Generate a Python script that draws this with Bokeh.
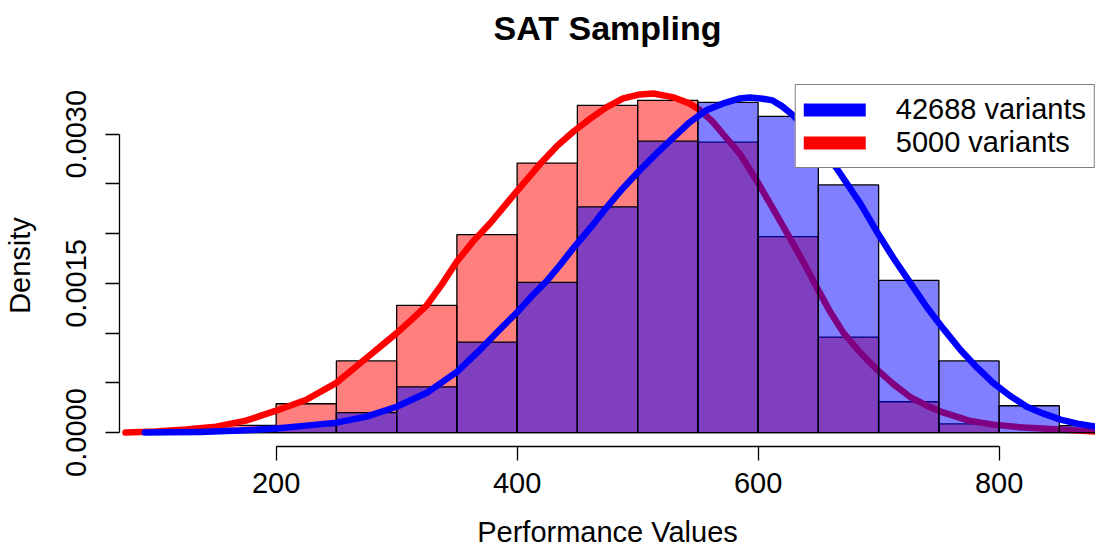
from bokeh.plotting import figure
from bokeh.models import Range1d, FixedTicker, Legend, LegendItem, Title
from bokeh.embed import file_html
from bokeh.resources import INLINE

# Histogram bin edges (Performance Values) shared by both samples
bin_edges = [150, 200, 250, 300, 350, 400, 450, 500, 550, 600, 650, 700, 750, 800, 850, 900]

# Histogram densities, 5000-variant sample
dens_5000 = [0.000073, 0.00029, 0.00072, 0.00128, 0.00199, 0.00271, 0.00329, 0.00334,
             0.00292, 0.00197, 0.00096, 0.00031, 0.000087, 0.0, 0.0]

# Histogram densities, full 42688-variant set
dens_42688 = [0.00001, 0.00007, 0.00020, 0.00046, 0.00091, 0.00151, 0.00227, 0.00293,
              0.00332, 0.00318, 0.00249, 0.00153, 0.00072, 0.00027, 0.00007]

# Kernel density estimate, 5000-variant sample
kde_5000_x = [75, 100, 125, 150, 175, 200, 225, 250, 275, 300, 312, 325, 337, 350, 364, 378,
              391, 400, 410, 419, 433, 447, 461, 474, 488, 502, 513, 530, 543, 552, 562, 571,
              585, 599, 612, 629, 640, 650, 660, 671, 685, 699, 712, 726, 740, 754, 775, 795,
              820, 851, 880]
kde_5000_y = [0.0, 0.00001, 0.00003, 0.00006, 0.00012, 0.00022, 0.00033, 0.00050, 0.00075,
              0.00100, 0.00113, 0.00128, 0.00148, 0.00172, 0.00193, 0.00211, 0.00230, 0.00243,
              0.00257, 0.00270, 0.00288, 0.00303, 0.00316, 0.00327, 0.00336, 0.00340, 0.00341,
              0.00337, 0.00331, 0.00324, 0.00313, 0.00300, 0.00280, 0.00253, 0.00226, 0.00190,
              0.00166, 0.00143, 0.00121, 0.00100, 0.00080, 0.00063, 0.00049, 0.00036, 0.00027,
              0.00020, 0.00012, 0.00008, 0.00005, 0.00003, 0.00001]

# Kernel density estimate, 42688-variant set
kde_42688_x = [91, 110, 137, 170, 200, 225, 250, 275, 300, 325, 350, 369, 385, 400, 412, 425,
               436, 447, 461, 474, 488, 502, 516, 530, 543, 557, 571, 585, 593, 602, 612, 620,
               629, 640, 652, 665, 685, 698, 712, 726, 740, 754, 768, 782, 795, 809, 823, 837,
               851, 865, 880]
kde_42688_y = [0.0, 0.000003, 0.000007, 0.00002, 0.00004, 0.00007, 0.00010, 0.00016, 0.00026,
               0.00040, 0.00061, 0.00083, 0.00103, 0.00121, 0.00137, 0.00153, 0.00169, 0.00186,
               0.00206, 0.00226, 0.00246, 0.00264, 0.00281, 0.00297, 0.00312, 0.00324, 0.00331,
               0.00336, 0.00337, 0.00336, 0.00334, 0.00328, 0.00319, 0.00305, 0.00287, 0.00266,
               0.00230, 0.00203, 0.00176, 0.00151, 0.00126, 0.00104, 0.00083, 0.00065, 0.00050,
               0.00037, 0.00026, 0.00019, 0.00013, 0.00009, 0.00006]

x_ticks = [200, 400, 600, 800]
y_ticks = [0.0, 0.0005, 0.0010, 0.0015, 0.0020, 0.0025, 0.0030]
y_tick_labels = {0.0: "0.0000", 0.0015: "0.0015", 0.0030: "0.0030"}

FONT = "Liberation Sans"
NAN = float("nan")

p = figure(width=1095, height=550, output_backend="svg", toolbar_location=None,
           x_range=Range1d(70, 880), y_range=Range1d(-0.00014, 0.0035),
           min_border_left=119, min_border_right=0, min_border_top=84, min_border_bottom=103)
p.outline_line_color = None
p.grid.visible = False
p.background_fill_color = "white"
p.border_fill_color = "white"

# title row: an empty gap next to the frame, then the title above it
title_gap = Title(text=" ", text_font_size="2px", standoff=34)
main_title = Title(text="SAT Sampling", align="center", text_font=FONT,
                   text_font_size="34px", text_font_style="bold", text_color="black",
                   standoff=0)
p.add_layout(title_gap, "above")
p.add_layout(main_title, "above")

lefts = bin_edges[:-1]
rights = bin_edges[1:]

# red histogram and its density curve first, blue drawn over them
p.quad(left=lefts, right=rights, bottom=0, top=dens_5000,
       fill_color="red", fill_alpha=0.5, line_color="black", line_width=1.3)
p.line(kde_5000_x, kde_5000_y, line_color="red", line_width=6.5, line_join="round",
       line_cap="round")
p.quad(left=lefts, right=rights, bottom=0, top=dens_42688,
       fill_color="blue", fill_alpha=0.5, line_color="black", line_width=1.3)
p.line(kde_42688_x, kde_42688_y, line_color="blue", line_width=6.5, line_join="round",
       line_cap="round")

# legend swatches (a single empty point each, shown only in the legend)
sw_blue = p.line([NAN], [NAN], line_color="blue", line_width=13, line_cap="round")
sw_red = p.line([NAN], [NAN], line_color="red", line_width=13, line_cap="round")
legend = Legend(items=[LegendItem(label="42688 variants", renderers=[sw_blue]),
                       LegendItem(label="5000 variants", renderers=[sw_red])],
                location="top_right", margin=0, padding=8, spacing=0,
                glyph_width=62, glyph_height=27, label_height=27, label_standoff=30,
                label_text_font=FONT, label_text_font_size="29px",
                label_text_color="black",
                border_line_color="black", border_line_width=1.3,
                background_fill_color="white", background_fill_alpha=1.0)
p.add_layout(legend, "center")

# axes
xa = p.xaxis[0]
xa.ticker = FixedTicker(ticks=x_ticks, minor_ticks=[])
xa.bounds = (200, 800)
xa.axis_label = "Performance Values"
ya = p.yaxis[0]
ya.ticker = FixedTicker(ticks=y_ticks, minor_ticks=[])
ya.bounds = (0, 0.003)
ya.major_label_overrides = {t: y_tick_labels.get(t, "") for t in y_ticks}
ya.major_label_orientation = "vertical"
ya.axis_label = "Density"

for ax in (xa, ya):
    ax.axis_line_color = "black"
    ax.axis_line_width = 1.3
    ax.major_tick_line_color = "black"
    ax.major_tick_line_width = 1.3
    ax.major_tick_out = 14
    ax.major_tick_in = 0
    ax.major_label_text_font = FONT
    ax.major_label_text_font_size = "29px"
    ax.major_label_text_color = "black"
    ax.axis_label_text_font = FONT
    ax.axis_label_text_font_size = "29px"
    ax.axis_label_text_font_style = "normal"
    ax.axis_label_text_color = "black"

xa.major_label_standoff = 12
xa.axis_label_standoff = 20
ya.major_label_standoff = 19
ya.axis_label_standoff = 28

open("out.html", "w").write(file_html(p, INLINE))
